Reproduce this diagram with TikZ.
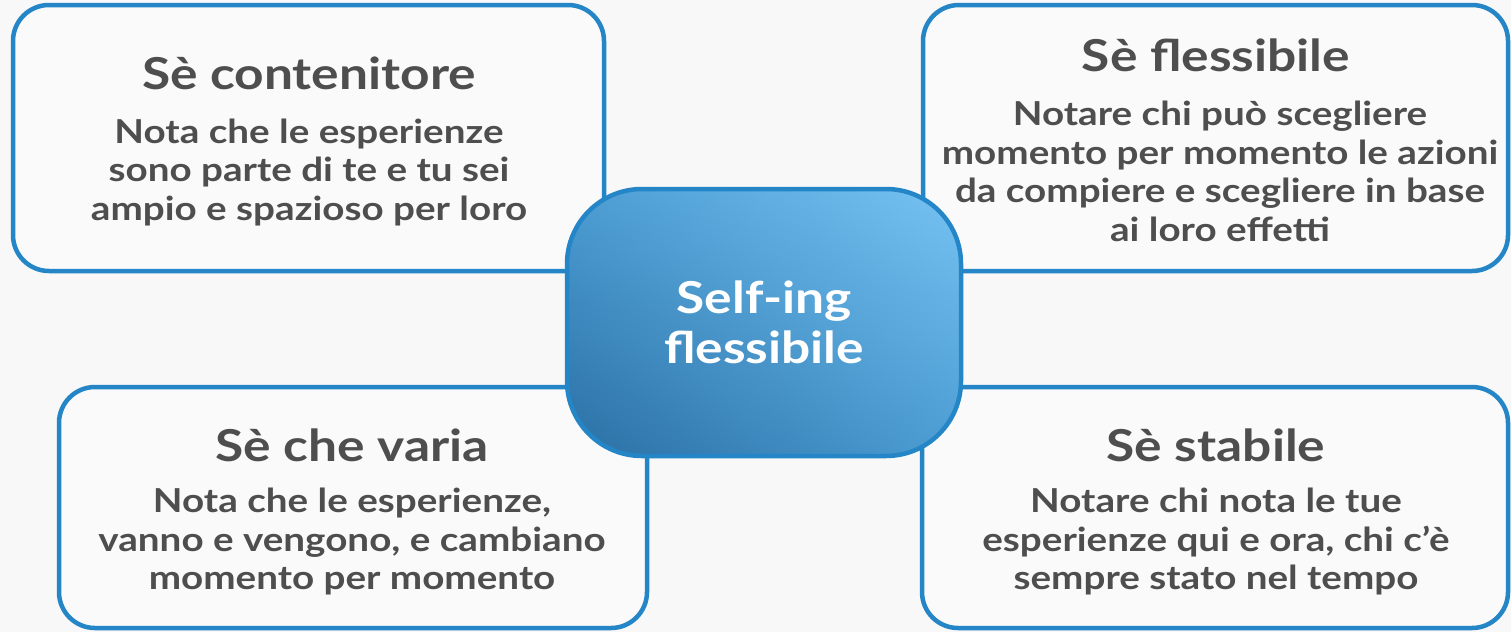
\documentclass[tikz,border=0pt]{standalone}
\usepackage{fontspec}
\setmainfont{Lato}[FakeStretch=1.17]
\usetikzlibrary{shadings}
\definecolor{bord}{HTML}{2586C7}
\definecolor{txt}{HTML}{4E4E4E}
\definecolor{bg}{HTML}{F8F8F8}
\definecolor{boxfill}{HTML}{FAFAFA}
\definecolor{cdark}{HTML}{2A6FA4}
\definecolor{cmid}{HTML}{4C9DD3}
\definecolor{clight}{HTML}{76C2F3}
\tikzset{
  panel/.style={draw=bord, line width=4.5pt, fill=boxfill, rounded corners=36pt, inner sep=0pt},
  hub/.style={draw=bord, line width=4.5pt, rounded corners=75pt, inner sep=0pt,
    upper right=clight, upper left=cmid, lower right=cmid, lower left=cdark},
  ttl/.style={text=txt, font=\fontsize{44}{50}\selectfont\bfseries, align=center},
  bdy/.style={text=txt, font=\fontsize{33}{38.5}\selectfont\bfseries, align=center},
  hubtxt/.style={text=white, font=\fontsize{44}{50}\selectfont\bfseries, align=center}
}
\begin{document}
\begin{tikzpicture}[x=1pt,y=-1pt]
\useasboundingbox (0,0) rectangle (1511,632);
\fill[bg] (0,0) rectangle (1511,632);
% panels
\node[panel, minimum width=591pt, minimum height=266pt] (tl) at (308.5,138) {};
\node[panel, minimum width=585pt, minimum height=266pt] (tr) at (1215.5,138) {};
\node[panel, minimum width=588pt, minimum height=241pt] (bl) at (353,507.5) {};
\node[panel, minimum width=586pt, minimum height=241pt] (br) at (1215,507.5) {};
% hub
\node[hub, minimum width=394pt, minimum height=267pt] (hub) at (764,322.5) {};
\node[hubtxt] (hubt) at (hub.center) {Self-ing\\flessibile};
% texts
\node[ttl] (tlt) at (309,73) {Sè contenitore};
\node[bdy] (tlb) at (309,172) {Nota che le esperienze\\sono parte di te e tu sei\\ampio e spazioso per loro};
\node[ttl] (trt) at (1216,55) {Sè flessibile};
\node[bdy] (trb) at (1220,171.5) {Notare chi può scegliere\\momento per momento le azioni\\da compiere e scegliere in base\\ai loro effetti};
\node[ttl] (blt) at (352,445) {Sè che varia};
\node[bdy] (blb) at (352,541.5) {Nota che le esperienze,\\vanno e vengono, e cambiano\\momento per momento};
\node[ttl] (brt) at (1216,445) {Sè stabile};
\node[bdy] (brb) at (1216,541.5) {Notare chi nota le tue\\esperienze qui e ora, chi c’è\\sempre stato nel tempo};
\end{tikzpicture}
\end{document}
